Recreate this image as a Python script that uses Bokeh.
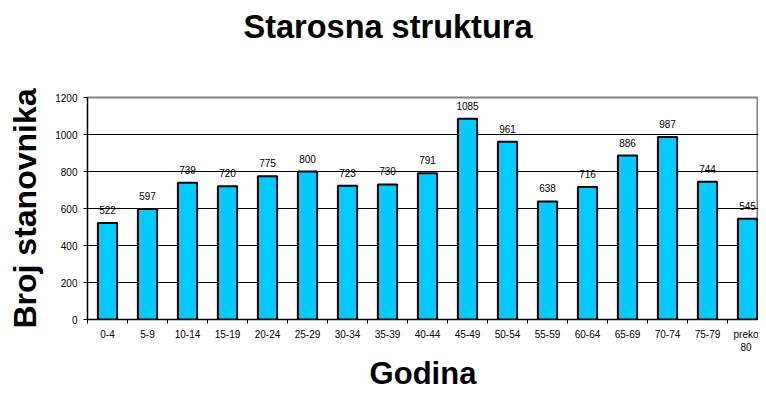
from bokeh.plotting import figure
from bokeh.models import Range1d, FixedTicker, ColumnDataSource, Title
from bokeh.core.properties import value
from bokeh.embed import file_html
from bokeh.resources import INLINE

categories = ["0-4", "5-9", "10-14", "15-19", "20-24", "25-29", "30-34", "35-39",
              "40-44", "45-49", "50-54", "55-59", "60-64", "65-69", "70-74", "75-79",
              "preko\n80"]
counts = [522, 597, 739, 720, 775, 800, 723, 730, 791, 1085, 961, 638, 716, 886, 987, 744, 545]
y_ticks = [0, 200, 400, 600, 800, 1000, 1200]
title_text = "Starosna struktura"

FONT = "Liberation Sans"
idx = list(range(len(categories)))
src = ColumnDataSource(dict(x=idx, y=counts, lbl=[str(c) for c in counts]))

p = figure(width=758, height=393, output_backend="svg", toolbar_location=None,
           x_range=Range1d(-0.5, len(categories) - 0.725), y_range=Range1d(0, 1200),
           min_border_left=87, min_border_right=0, min_border_top=97, min_border_bottom=60)

# empty spacer panel between frame and title, then the real title on top of it
p.add_layout(Title(text=" ", text_font_size="1px", standoff=50), "above")
p.add_layout(Title(text=title_text, align="left", offset=156, text_font=FONT,
                   text_font_size="32.5px", text_font_style="bold", text_color="#000000",
                   standoff=0), "above")

p.vbar(x="x", top="y", width=0.48, source=src, fill_color="#00CCFF",
       line_color="#000000", line_width=2)
p.text(x="x", y="y", text="lbl", source=src, text_align="center", text_baseline="bottom",
       y_offset=-9, text_font=value(FONT), text_font_size="10px", text_color="#000000")

p.xgrid.grid_line_color = None
p.ygrid.grid_line_color = "#000000"
p.ygrid.grid_line_width = 1
p.ygrid.ticker = FixedTicker(ticks=y_ticks)

p.outline_line_color = "#808080"
p.outline_line_width = 2
p.background_fill_color = "white"
p.border_fill_color = "white"

xa = p.xaxis[0]
xa.ticker = FixedTicker(ticks=idx, minor_ticks=[i - 0.5 for i in idx] + [len(categories) - 0.5])
xa.major_label_overrides = {i: c for i, c in zip(idx, categories)}
xa.major_tick_line_color = None
xa.minor_tick_line_color = "#000000"
xa.minor_tick_out = 4
xa.minor_tick_in = 0
xa.axis_line_color = "#000000"
xa.major_label_text_font = FONT
xa.major_label_text_font_size = "10px"
xa.major_label_text_color = "#000000"
xa.major_label_standoff = 3
xa.axis_label = "Godina"
xa.axis_label_text_font = FONT
xa.axis_label_text_font_size = "31px"
xa.axis_label_text_font_style = "bold"
xa.axis_label_text_color = "#000000"
xa.axis_label_standoff = 0

ya = p.yaxis[0]
ya.ticker = FixedTicker(ticks=y_ticks)
ya.major_tick_out = 4
ya.major_tick_in = 0
ya.minor_tick_line_color = None
ya.axis_line_color = "#000000"
ya.major_label_text_font = FONT
ya.major_label_text_font_size = "10px"
ya.major_label_text_color = "#000000"
ya.major_label_standoff = 6
ya.axis_label = "Broj stanovnika"
ya.axis_label_text_font = FONT
ya.axis_label_text_font_size = "32px"
ya.axis_label_text_font_style = "bold"
ya.axis_label_text_color = "#000000"
ya.axis_label_standoff = 9

open("out.html", "w").write(file_html(p, INLINE))
